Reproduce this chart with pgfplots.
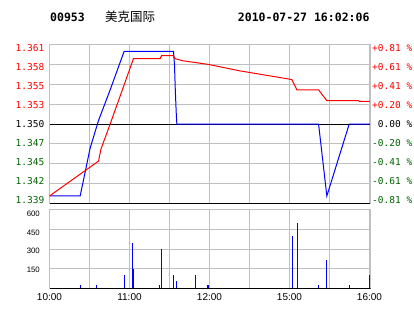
\documentclass[border=0pt]{standalone}
\usepackage{fontspec}
\setmainfont{Liberation Sans}
\newfontfamily\monof{DejaVu Sans Mono}
\newfontfamily\cjk{Noto Sans CJK SC}
\usepackage{pgfplots}
\pgfplotsset{compat=1.18}
\definecolor{gridg}{HTML}{C0C0C0}
\definecolor{dgreen}{HTML}{006400}
\begin{document}
\begin{tikzpicture}[x=1pt,y=1pt]
\fill[white] (0,0) rectangle (414,314);
\node[anchor=west,inner sep=0pt,font=\monof\bfseries\fontsize{11.5}{12}\selectfont] at (50,297) {00953};
\node[anchor=west,inner sep=0pt,font=\cjk\fontsize{12.5}{13}\selectfont] at (105,297) {美克国际};
\node[anchor=west,inner sep=0pt,font=\monof\bfseries\fontsize{11.5}{12}\selectfont] at (237.7,297) {2010-07-27 16:02:06};

% main price chart
\begin{axis}[at={(49.5pt,110.5pt)}, anchor=south west, scale only axis,
  width=321pt, height=159pt,
  xmin=0, xmax=240.75, ymin=1.339065, ymax=1.360935,
  xtick={0,30,...,240}, xticklabels={},
  ytick={1.339065,1.34179875,1.3445325,1.34726625,1.35,1.35273375,1.3554675,1.35820125,1.360935},
  yticklabels={\color{dgreen}1.339,\color{dgreen}1.342,\color{dgreen}1.345,\color{dgreen}1.347,1.350,\color{red}1.353,\color{red}1.355,\color{red}1.358,\color{red}1.361},
  grid=major, grid style={gridg, line width=1pt},
  axis line style={gridg, line width=1pt},
  major tick length=0pt,
  yticklabel style={inner sep=0pt, anchor=east, xshift=-5pt, yshift={(4-\ticknum)*0.9pt}, font=\monof\fontsize{9.5}{10}\selectfont},
  extra y ticks={1.35}, extra y tick labels={},
  extra y tick style={grid style={black, line width=1pt}},
]
\addplot[blue, line width=1pt] coordinates {
(0,1.3401) (23,1.3401) (30.5,1.3467) (36.8,1.3505) (45.5,1.3547) (56,1.3600)
(93,1.3600) (93.75,1.3581) (94.3,1.3549) (95,1.3517) (95.5,1.3500)
(201.8,1.3500) (208,1.3401) (224.8,1.3500) (240.75,1.3500)};
\addplot[red, line width=1pt] coordinates {
(0,1.3401) (36.8,1.3449) (38.5,1.3465) (45.5,1.3500) (63,1.3590)
(83,1.3590) (84,1.3594) (93,1.3594) (94,1.3590) (100,1.3587) (119,1.3582)
(143,1.3573) (179,1.3562) (181.8,1.3561) (185.5,1.3547) (201.8,1.3547)
(208,1.3532) (231.8,1.3532) (232.5,1.3531) (240.75,1.3531)};
\draw[black, line width=1pt] (rel axis cs:0,0) -- (rel axis cs:1,0);
\end{axis}

% right percent labels
\begin{axis}[at={(49.5pt,110.5pt)}, anchor=south west, scale only axis,
  width=321pt, height=159pt,
  xmin=0, xmax=240.75, ymin=1.339065, ymax=1.360935,
  axis x line=none, axis y line*=right,
  axis line style={gridg, line width=1pt},
  ytick={1.339065,1.34179875,1.3445325,1.34726625,1.35,1.35273375,1.3554675,1.35820125,1.360935},
  yticklabels={\color{dgreen}-0.81 \%,\color{dgreen}-0.61 \%,\color{dgreen}-0.41 \%,\color{dgreen}-0.20 \%,\phantom{+}0.00 \%,\color{red}+0.20 \%,\color{red}+0.41 \%,\color{red}+0.61 \%,\color{red}+0.81 \%},
  major tick length=0pt,
  yticklabel style={inner sep=0pt, anchor=west, xshift=1.5pt, yshift={(4-\ticknum)*0.9pt}, font=\monof\fontsize{9.5}{10}\selectfont},
]
\addplot[draw=none] coordinates {(0,1.35)};
\end{axis}

% volume chart
\begin{axis}[at={(49.5pt,25.5pt)}, anchor=south west, scale only axis,
  width=321pt, height=79pt,
  xmin=0, xmax=240.75, ymin=0, ymax=600,
  xtick={0,30,...,240}, xticklabels={10:00,,11:00,,12:00,,15:00,,16:00},
  ytick={150,300,450,600}, yticklabels={150,300,450,600},
  grid=major, grid style={gridg, line width=1pt},
  axis line style={gridg, line width=1pt},
  major tick length=0pt,
  yticklabel style={inner sep=0pt, anchor=east, xshift=-9.5pt, yshift={-(1+1.1*\ticknum)*1pt}, font=\fontsize{7.8}{8}\selectfont},
  xticklabel style={inner sep=0pt, anchor=north, yshift=-5pt, font=\fontsize{10}{11}\selectfont},
]
\addplot[ycomb, blue, line width=1pt] coordinates {
(23.25,30) (35.25,30) (56.25,105) (62.25,345) (63,150) (82.5,30) (84,300)
(93,105) (95.25,55) (109.5,105) (118.5,30) (119.25,30) (182.25,395)
(186,495) (201.75,30) (207.75,220) (225,30) (240,105)};
\draw[black, line width=1pt] (rel axis cs:0,0) -- (rel axis cs:1,0);
\end{axis}
\pgfresetboundingbox
\useasboundingbox (0,0) rectangle (414,314);
\end{tikzpicture}
\end{document}
